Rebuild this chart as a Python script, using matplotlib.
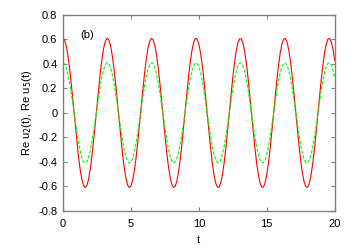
import numpy as np
import matplotlib
matplotlib.use('Agg')
import matplotlib.pyplot as plt

plt.rcParams['font.family'] = ['Liberation Sans', 'DejaVu Sans']

t = np.arange(0, 20.001, 0.125)
re_u2 = [0.610, 0.592, 0.541, 0.458, 0.349, 0.219, 0.078, -0.069,
         -0.211, -0.341, -0.452, -0.536, -0.590, -0.610, -0.594, -0.545,
         -0.464, -0.356, -0.227, -0.086, 0.060, 0.203, 0.334, 0.446,
         0.532, 0.588, 0.610, 0.596, 0.549, 0.469, 0.363, 0.236,
         0.095, -0.051, -0.195, -0.327, -0.441, -0.528, -0.586, -0.609,
         -0.598, -0.552, -0.475, -0.370, -0.244, -0.104, 0.043, 0.186,
         0.320, 0.434, 0.524, 0.583, 0.609, 0.600, 0.556, 0.480,
         0.377, 0.252, 0.112, -0.034, -0.178, -0.312, -0.428, -0.519,
         -0.580, -0.608, -0.601, -0.560, -0.486, -0.384, -0.260, -0.121,
         0.025, 0.169, 0.304, 0.421, 0.514, 0.578, 0.608, 0.603,
         0.563, 0.491, 0.391, 0.268, 0.130, -0.016, -0.161, -0.297,
         -0.416, -0.510, -0.575, -0.607, -0.604, -0.567, -0.496, -0.398,
         -0.276, -0.138, 0.007, 0.152, 0.289, 0.408, 0.505, 0.572,
         0.606, 0.605, 0.570, 0.501, 0.404, 0.284, 0.147, 0.002,
         -0.144, -0.281, -0.403, -0.500, -0.569, -0.605, -0.606, -0.573,
         -0.506, -0.411, -0.291, -0.155, -0.010, 0.135, 0.274, 0.395,
         0.495, 0.565, 0.604, 0.607, 0.576, 0.511, 0.417, 0.300,
         0.164, 0.019, -0.127, -0.265, -0.390, -0.489, -0.562, -0.602,
         -0.608, -0.579, -0.516, -0.424, -0.307, -0.172, -0.028, 0.118,
         0.258, 0.382, 0.484, 0.559, 0.601, 0.609, 0.581, 0.521,
         0.430]
re_u5 = [0.410, 0.398, 0.363, 0.308, 0.234, 0.147, 0.052, -0.046,
         -0.142, -0.229, -0.304, -0.361, -0.397, -0.410, -0.400, -0.366,
         -0.312, -0.239, -0.153, -0.058, 0.040, 0.137, 0.225, 0.300,
         0.358, 0.395, 0.410, 0.401, 0.369, 0.315, 0.244, 0.159,
         0.064, -0.034, -0.131, -0.220, -0.296, -0.355, -0.394, -0.410,
         -0.402, -0.371, -0.319, -0.249, -0.164, -0.070, 0.029, 0.125,
         0.215, 0.292, 0.352, 0.392, 0.409, 0.403, 0.374, 0.323,
         0.253, 0.170, 0.076, -0.023, -0.119, -0.209, -0.288, -0.349,
         -0.390, -0.409, -0.404, -0.376, -0.326, -0.258, -0.175, -0.081,
         0.017, 0.114, 0.204, 0.283, 0.346, 0.388, 0.408, 0.405,
         0.379, 0.330, 0.263, 0.180, 0.087, -0.011, -0.108, -0.199,
         -0.279, -0.343, -0.386, -0.408, -0.406, -0.381, -0.334, -0.267,
         -0.186, -0.093, 0.005, 0.102, 0.194, 0.274, 0.339, 0.384,
         0.407, 0.407, 0.383, 0.337, 0.272, 0.191, 0.099, 0.001,
         -0.097, -0.189, -0.271, -0.336, -0.382, -0.407, -0.407, -0.385,
         -0.340, -0.276, -0.196, -0.104, -0.007, 0.091, 0.184, 0.266,
         0.332, 0.380, 0.406, 0.408, 0.387, 0.344, 0.280, 0.201,
         0.110, 0.013, -0.085, -0.178, -0.262, -0.329, -0.378, -0.405,
         -0.409, -0.389, -0.347, -0.285, -0.206, -0.116, -0.019, 0.079,
         0.173, 0.256, 0.325, 0.375, 0.404, 0.409, 0.391, 0.350,
         0.289]
xticks = [0, 5, 10, 15, 20]
yticks = [-0.8, -0.6, -0.4, -0.2, 0, 0.2, 0.4, 0.6, 0.8]
ytick_labels = ['-0.8', '-0.6', '-0.4', '-0.2', '0', '0.2', '0.4', '0.6', '0.8']

fig = plt.figure(figsize=(3.56, 2.49), dpi=100)
ax = fig.add_axes([0.177, 0.153, 0.763, 0.787])

ax.plot(t, re_u2, color='#ff0000', lw=0.8)
ax.plot(t, re_u5, color='#00ff00', lw=0.8, dashes=(3, 1.5))

ax.set_xlim(0, 20)
ax.set_ylim(-0.8, 0.8)
ax.set_xticks(xticks)
ax.set_yticks(yticks)
ax.set_yticklabels(ytick_labels)
ax.tick_params(direction='in', length=3, width=0.8, color='#808080',
               top=True, right=True, labelsize=8, pad=4)
ax.tick_params(axis='x', pad=6)
for s in ax.spines.values():
    s.set_color('#808080')
    s.set_linewidth(1.0)

ax.set_xlabel('t', fontsize=8, labelpad=4)
ax.set_ylabel('Re u$_2$(t), Re u$_5$(t)', fontsize=8, labelpad=3)
ax.text(1.75, 0.64, '(b)', fontsize=8, ha='center', va='center')

fig.savefig('out.png', dpi=100)
